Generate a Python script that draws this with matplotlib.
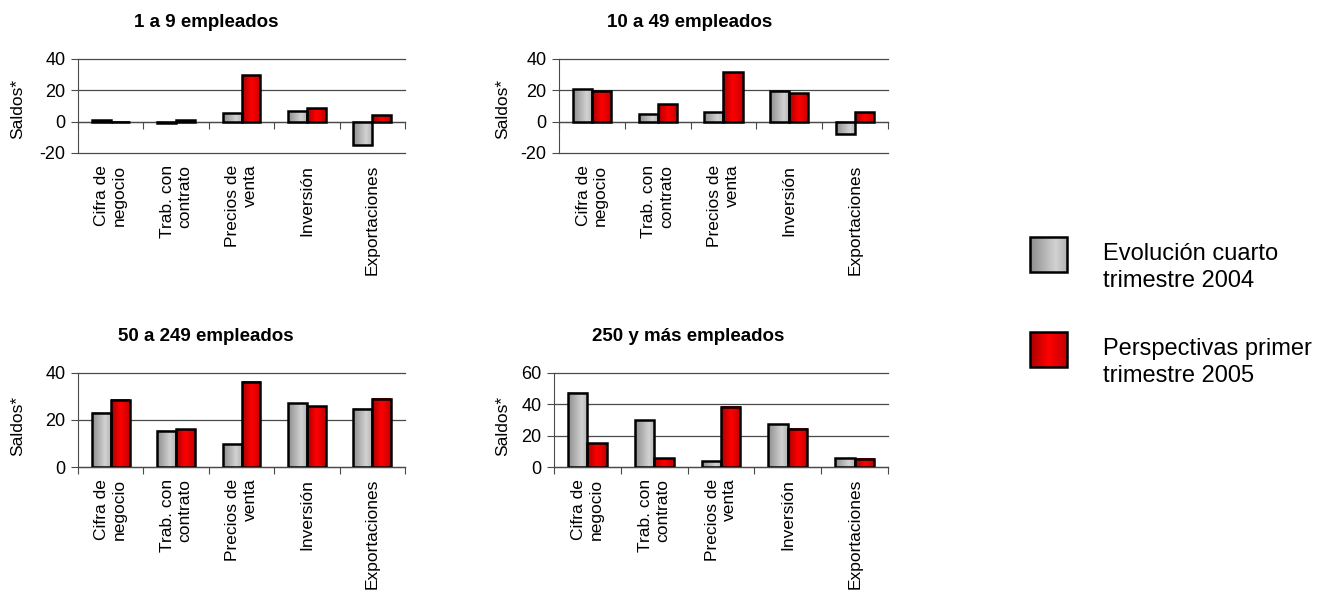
import numpy as np
import matplotlib
matplotlib.use("Agg")
import matplotlib.pyplot as plt
from matplotlib.colors import LinearSegmentedColormap
from matplotlib.patches import Rectangle

plt.rcParams['font.family'] = ['Liberation Sans', 'DejaVu Sans']
plt.rcParams['axes.unicode_minus'] = False

categories = ["Cifra de\nnegocio", "Trab. con\ncontrato", "Precios de\nventa",
              "Inversión", "Exportaciones"]
titles = ["1 a 9 empleados", "10 a 49 empleados",
          "50 a 249 empleados", "250 y más empleados"]
series_names = ["Evolución cuarto\ntrimestre 2004",
                "Perspectivas primer\ntrimestre 2005"]

# evolución cuarto trimestre 2004
evol_1_9 = [1.0, -1.0, 5.5, 7.0, -14.9]
evol_10_49 = [20.8, 4.8, 5.9, 19.6, -8.2]
evol_50_249 = [23.1, 15.5, 9.6, 27.0, 24.7]
evol_250 = [47.4, 29.8, 3.6, 27.4, 5.7]
# perspectivas primer trimestre 2005
persp_1_9 = [-0.5, 1.0, 29.4, 8.5, 4.3]
persp_10_49 = [19.6, 11.2, 31.4, 18.1, 6.1]
persp_50_249 = [28.5, 16.0, 36.3, 25.8, 28.9]
persp_250 = [15.1, 5.7, 38.5, 24.5, 5.1]

ylims = [(-20, 40), (-20, 40), (0, 40), (0, 60)]
panels = [(evol_1_9, persp_1_9), (evol_10_49, persp_10_49),
          (evol_50_249, persp_50_249), (evol_250, persp_250)]

grey_cmap = LinearSegmentedColormap.from_list(
    "g", [(0, "#8e8e8e"), (0.7, "#d2d2d2"), (1, "#b4b4b4")])
red_cmap = LinearSegmentedColormap.from_list(
    "r", [(0, "#a80000"), (0.5, "#ff0000"), (1, "#c40000")])
grad = np.linspace(0, 1, 64).reshape(1, -1)

fig = plt.figure(figsize=(13.35, 5.92), dpi=100)
rects = [[0.0584, 0.7416, 0.245, 0.159],
         [0.4187, 0.7416, 0.2464, 0.159],
         [0.0584, 0.2111, 0.245, 0.159],
         [0.4150, 0.2111, 0.2502, 0.159]]
title_x = [0.391, 0.398, 0.391, 0.401]
ylabel_x = [-0.162, -0.149, -0.162, -0.132]
ylabel_y = [0.47, 0.47, 0.44, 0.44]

w = 0.29
x = np.arange(len(categories))
line_col = "#4a4a4a"


def gradient_bars(ax, bars, cmap):
    for b in bars:
        bx, by = b.get_x(), b.get_y()
        bw, bh = b.get_width(), b.get_height()
        ax.imshow(grad, cmap=cmap, aspect="auto", zorder=2,
                  extent=[bx, bx + bw, by, by + bh], interpolation="bilinear")


for k, ((ev, pe), title, yl, r) in enumerate(zip(panels, titles, ylims, rects)):
    ax = fig.add_axes(r)
    b1 = ax.bar(x - w / 2, ev, w, facecolor="none", edgecolor="black",
                linewidth=1.8, zorder=3)
    b2 = ax.bar(x + w / 2, pe, w, facecolor="none", edgecolor="black",
                linewidth=1.8, zorder=3)
    gradient_bars(ax, b1, grey_cmap)
    gradient_bars(ax, b2, red_cmap)
    ax.set_xlim(-0.5, len(categories) - 0.5)
    ax.set_ylim(*yl)
    ax.set_yticks(np.arange(yl[0], yl[1] + 1, 20))
    ax.yaxis.grid(True, color=line_col, linewidth=0.9, zorder=1)
    for gl in ax.get_ygridlines():
        gl.set_clip_on(False)
    ax.set_axisbelow(True)
    for s in ["top", "right", "bottom"]:
        ax.spines[s].set_visible(False)
    ax.spines["left"].set_color(line_col)
    ax.tick_params(axis="y", labelsize=13, length=5, color=line_col, pad=4)
    ax.set_xticks(x)
    ax.set_xticklabels(categories, rotation=90, fontsize=12.5, va="top",
                       ha="center", multialignment="right")
    ax.tick_params(axis="x", length=0, pad=8.5)
    # category axis at zero with tick marks between categories
    loc0 = (0 - yl[0]) / (yl[1] - yl[0])
    sec = ax.secondary_xaxis(loc0)
    sec.set_xticks(np.arange(-0.5, len(categories), 1.0))
    sec.set_xticklabels([])
    sec.tick_params(axis="x", direction="out", length=5, color=line_col)
    sec.spines["bottom"].set_color(line_col)
    sec.spines["bottom"].set_linewidth(0.9)
    ax.set_ylabel("Saldos*", fontsize=12.5)
    ax.yaxis.set_label_coords(ylabel_x[k], ylabel_y[k])
    ax.set_title(title, fontsize=13.5, fontweight="bold", pad=23, x=title_x[k])

# legend
lax = fig.add_axes([0, 0, 1, 1], zorder=-1)
lax.axis("off")
for i, (name, cmap) in enumerate(zip(series_names, [grey_cmap, red_cmap])):
    y0 = 237 + i * 95
    lax.imshow(grad, cmap=cmap, aspect="auto", extent=[1030, 1067, y0 + 35, y0],
               interpolation="bilinear")
    lax.add_patch(Rectangle((1030, y0), 37, 35, facecolor="none",
                            edgecolor="black", linewidth=1.8))
    lax.text(1103, y0 + 6, name, fontsize=17, va="top", ha="left",
             linespacing=1.3)
lax.set_xlim(0, 1335)
lax.set_ylim(592, 0)

fig.savefig("out.png", dpi=100)
